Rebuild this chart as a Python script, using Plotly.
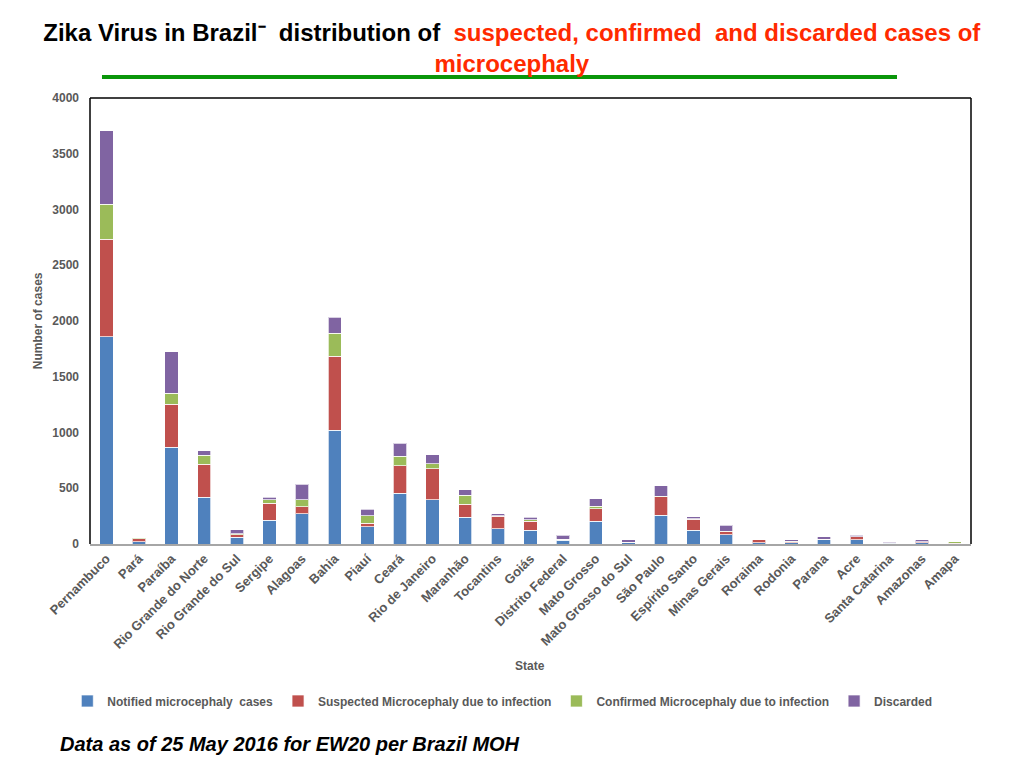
#!/usr/bin/env python3
"""Zika virus in Brazil: microcephaly cases by state, stacked bars."""
import plotly.graph_objects as go

STATES = ["Pernambuco", "Pará", "Paraíba", "Rio Grande do Norte", "Rio Grande do Sul",
          "Sergipe", "Alagoas", "Bahia", "Piauí", "Ceará", "Rio de Janeiro", "Maranhão",
          "Tocantins", "Goiás", "Distrito Federal", "Mato Grosso", "Mato Grosso do Sul",
          "São Paulo", "Espírito Santo", "Minas Gerais", "Roraima", "Rodonia", "Parana",
          "Acre", "Santa Catarina", "Amazonas", "Amapa"]

notified = [1858, 20, 866, 420, 62, 213, 272, 1022, 153, 456, 398, 240, 135, 123, 33,
            204, 10, 258, 123, 84, 12, 10, 36, 36, 5, 12, 3]
suspected = [875, 28, 386, 296, 22, 153, 63, 662, 33, 248, 279, 117, 114, 81, 9,
             113, 5, 165, 99, 27, 24, 8, 6, 27, 5, 6, 3]
confirmed = [312, 10, 99, 81, 6, 30, 63, 204, 68, 81, 42, 81, 3, 12, 2,
             22, 0, 6, 6, 5, 0, 6, 0, 3, 0, 3, 12]
discarded = [662, 0, 372, 39, 36, 24, 139, 144, 58, 120, 81, 47, 18, 24, 36,
             66, 24, 95, 15, 50, 0, 12, 24, 12, 10, 15, 0]

SERIES = [
    ("Notified microcephaly  cases", notified, "#4F81BD"),
    ("Suspected Microcephaly due to infection", suspected, "#C0504D"),
    ("Confirmed Microcephaly due to infection", confirmed, "#9BBB59"),
    ("Discarded", discarded, "#8064A2"),
]

GREY = "#595959"
RED = "#FF2A00"
FONT = "Liberation Sans, Arial, sans-serif"

fig = go.Figure()
for name, vals, col in SERIES:
    fig.add_trace(go.Bar(x=STATES, y=vals, name=name, marker_color=col,
                         marker_line=dict(color="rgba(255,255,255,0.7)", width=1)))

title = ("<b>Zika Virus in Brazil⁻&nbsp; distribution of&nbsp; "
         f"<span style='color:{RED}'>suspected, confirmed&nbsp; and discarded cases of</span>"
         f"<br><span style='color:{RED}'>microcephaly</span></b>")

# page body has an 8px margin, so margins are trimmed to land the plot at 90..971 x 98..544
fig.update_layout(
    barmode="stack", bargap=0.59,
    width=1024, height=768,
    paper_bgcolor="white", plot_bgcolor="white",
    margin=dict(l=82, r=61, t=90, b=232, autoexpand=False),
    font=dict(family=FONT, color=GREY),
    title=dict(text=title, x=0.492, xanchor="center", y=0.957, yanchor="top",
               font=dict(family=FONT, size=24, color="black")),
    showlegend=True,
    legend=dict(orientation="h", x=0.468, xanchor="center", y=-0.352, yanchor="middle",
                font=dict(size=12, color=GREY, weight="bold"), traceorder="normal",
                itemwidth=30),
    xaxis=dict(tickangle=-45, tickfont=dict(size=13, color=GREY, weight="bold"),
               showline=True, linecolor="#A6A6A6", linewidth=2, ticks="",
               showgrid=False, automargin=False),
    yaxis=dict(range=[0, 4000], dtick=500, tickfont=dict(size=12, color=GREY, weight="bold"),
               showgrid=False, zeroline=False, showline=False, ticks="",
               ticklabelstandoff=10, automargin=False),
)

# frame: black on left, top and right
for x0, y0, x1, y1 in [(0, 0, 0, 1), (0, 1, 1, 1), (1, 0, 1, 1)]:
    fig.add_shape(type="line", xref="paper", yref="paper", x0=x0, y0=y0, x1=x1, y1=y1,
                  line=dict(color="black", width=1.5))

# green rule under the title
fig.add_shape(type="line", xref="paper", yref="paper", x0=0.0136, x1=0.916,
              y0=1.047, y1=1.047, line=dict(color="#0A960A", width=4))

fig.add_annotation(text="<b>State</b>", xref="paper", yref="paper", x=0.499, y=-0.294,
                   showarrow=False, font=dict(size=12, color=GREY))
fig.add_annotation(text="<b>Number of cases</b>", xref="paper", yref="paper", x=-0.069, y=0.5,
                   textangle=-90, showarrow=False, font=dict(size=12, color=GREY))
fig.add_annotation(text="<b><i>Data as of 25 May 2016 for EW20 per Brazil MOH</i></b>",
                   xref="paper", yref="paper", x=-0.036, xanchor="left", y=-0.448,
                   yanchor="middle", showarrow=False, font=dict(size=20, color="black"))

fig.write_html("out.html")
